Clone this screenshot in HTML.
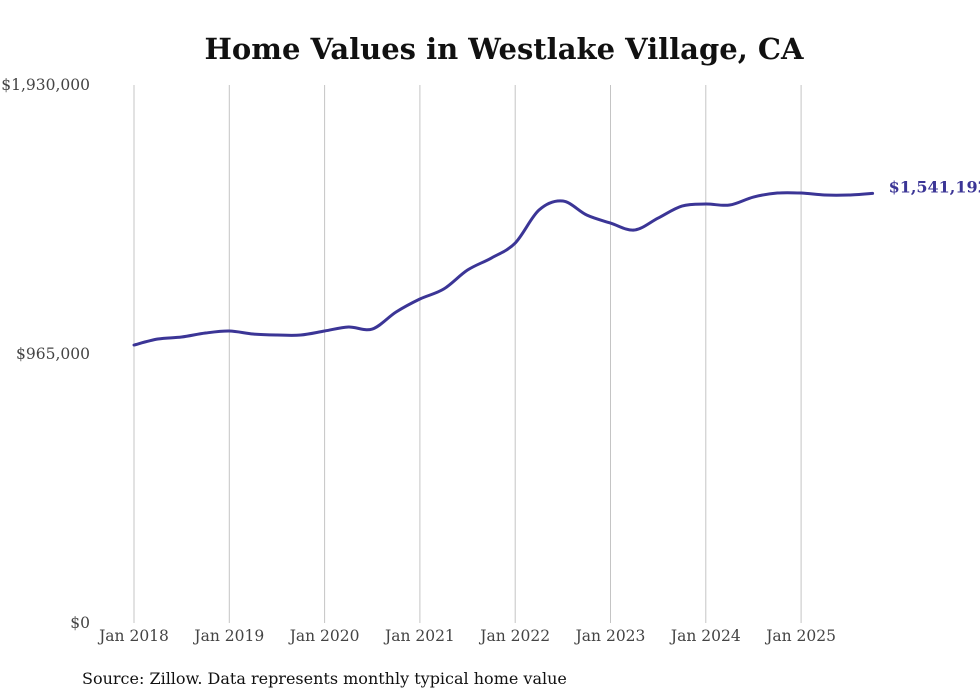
<!DOCTYPE html>
<html><head><meta charset="utf-8"><style>
body{margin:0;background:#fff;width:980px;height:699px;overflow:hidden}
svg{display:block}
</style></head><body>
<svg id="chart" width="980" height="699">
<text x="504" y="59" text-anchor="middle" font-family="'DejaVu Serif','Liberation Serif',serif" font-weight="bold" font-size="29" fill="#111">Home Values in Westlake Village, CA</text>
<g id="grid"></g><g id="yaxis"></g><g id="xaxis"></g><g id="series"></g>
<text x="82" y="684" font-family="'DejaVu Serif','Liberation Serif',serif" font-size="16" fill="#111">Source: Zillow. Data represents monthly typical home value</text>
</svg>
<script>
const months=[0,3,6,9,12,15,18,21,24,27,30,33,36,39,42,45,48,51,54,57,60,63,66,69,72,75,78,81,84,87,90,93];
const values=[997200,1018700,1025900,1040200,1047400,1036600,1033100,1033100,1047400,1061800,1054600,1115600,1162200,1198100,1266200,1309300,1363100,1481400,1513700,1463500,1434800,1409700,1452700,1495800,1503000,1499400,1528100,1542400,1542400,1535200,1535200,1541192];
const yTicks=[0,965000,1930000];
const yTickLabels=["$0","$965,000","$1,930,000"];
const xTickYears=[2018,2019,2020,2021,2022,2023,2024,2025];
const NS="http://www.w3.org/2000/svg";
const x0=134,pxPerMonth=95.3/12,yBase=623,yTop=85,yMax=1930000;
function xs(m){return x0+m*pxPerMonth;}
function ys(v){return yBase-(v/yMax)*(yBase-yTop);}
function mk(tag,attrs,parent){const e=document.createElementNS(NS,tag);for(const k in attrs)e.setAttribute(k,attrs[k]);parent.appendChild(e);return e;}
const F="'DejaVu Serif','Liberation Serif',serif";
const grid=document.getElementById('grid'),xa=document.getElementById('xaxis'),ya=document.getElementById('yaxis'),se=document.getElementById('series');
xTickYears.forEach((yr)=>{
  const x=xs((yr-2018)*12);
  const l=mk('line',{x1:x,x2:x,y1:yTop,y2:yBase,stroke:'#c4c4c4','stroke-width':1},grid);
  
  
  const t=mk('text',{x:x,y:641,'text-anchor':'middle','font-family':F,'font-size':15.5,fill:'#444'},xa);
  t.textContent='Jan '+yr;
  
  
});
yTicks.forEach((v,i)=>{
  const t=mk('text',{x:90,y:ys(v)+5,'text-anchor':'end','font-family':F,'font-size':15.5,fill:'#444'},ya);
  t.textContent=yTickLabels[i];
  
  
});
const pts=months.map((m,i)=>[xs(m),ys(values[i])]);
let d='M'+pts[0][0]+','+pts[0][1];
for(let i=0;i<pts.length-1;i++){
  const p0=pts[i-1]||pts[i],p1=pts[i],p2=pts[i+1],p3=pts[i+2]||p2;
  const c1=[p1[0]+(p2[0]-p0[0])/6,p1[1]+(p2[1]-p0[1])/6];
  const c2=[p2[0]-(p3[0]-p1[0])/6,p2[1]-(p3[1]-p1[1])/6];
  d+=' C'+c1+' '+c2+' '+p2;
}
const path=mk('path',{d:d,fill:'none',stroke:'#3b3596','stroke-width':3,'stroke-linejoin':'round','stroke-linecap':'round'},se);


const last=pts[pts.length-1];
const lab=mk('text',{x:last[0]+16,y:last[1]-1,'font-family':F,'font-size':16,'font-weight':'bold',fill:'#3b3596'},se);
lab.textContent='$'+values[values.length-1].toLocaleString('en-US');


</script>
</body></html>
